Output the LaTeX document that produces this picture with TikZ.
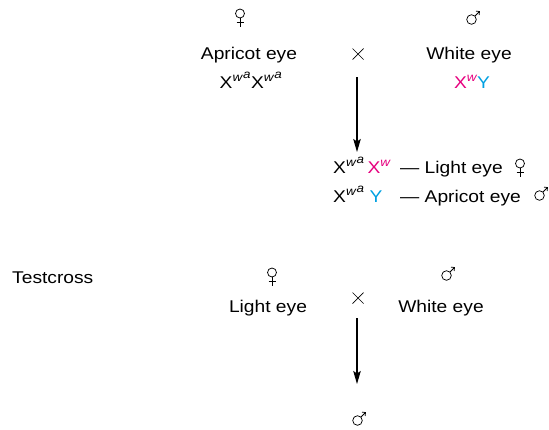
\documentclass[tikz,border=0pt]{standalone}
\usepackage{fontspec}
\setmainfont[FakeStretch=1.13]{Liberation Sans}
\usetikzlibrary{arrows.meta}
\definecolor{allele}{RGB}{230,0,126}
\definecolor{ychrom}{RGB}{0,160,225}
\newcommand{\supwa}{\textsuperscript{\itshape w\kern0.8pt\raisebox{0.5ex}{a}}}
\newcommand{\supw}{\textsuperscript{\itshape w}}
\tikzset{
  sexline/.style={line width=0.75pt},
  female/.pic={
    \draw[sexline] (0,-3.5) circle[radius=4.5];
    \draw[sexline] (0,1) -- (0,9.5) (-3.5,5.5) -- (3.5,5.5);},
  male/.pic={
    \draw[sexline] (-1.5,2.5) circle[radius=4.8];
    \draw[sexline] (1.9,-0.9) -- (6.5,-5.5);
    \draw[sexline] (3.0,-5.9) -- (6.5,-5.5) -- (6.1,-2.0);},
  crosssign/.pic={
    \draw[line width=0.7pt] (-5.5,-5.5) -- (5.5,5.5) (-5.5,5.5) -- (5.5,-5.5);}
}
\begin{document}
\begin{tikzpicture}[x=1pt,y=-1pt,
  lbl/.style={inner sep=0pt,anchor=base,font=\fontsize{17}{20}\selectfont},
  lblw/.style={lbl,anchor=base west},
  arr/.style={line width=1.2pt,-{Stealth[length=13pt,width=7.5pt,inset=2.5pt]}}]
\useasboundingbox (0,0) rectangle (549,429);
% parental cross
\pic (pf) at (240,17) {female};
\pic (pm) at (473,17) {male};
\node[lbl] (papr) at (249,59) {Apricot eye};
\node[lbl] (pgf) at (251,88) {X\supwa X\supwa};
\pic (px) at (358,54) {crosssign};
\node[lbl] (pwh) at (469,59) {White eye};
\node[lbl] (pgm) at (472,88) {\color{allele}X\supw\color{ychrom}Y};
\coordinate (a1s) at (357,77);
\coordinate (a1e) at (357,152);
\draw[arr] (a1s) -- (a1e);
% F1 progeny
\node[lblw] (f1g) at (333,173) {X\supwa\kern3pt\color{allele}X\supw};
\node[lblw] (f1p) at (400,173) {— Light eye};
\pic (f1s) at (520,167) {female};
\node[lblw] (m1g) at (333,202) {X\supwa\kern5pt\color{ychrom}Y};
\node[lblw] (m1p) at (400,202) {— Apricot eye};
\pic (m1s) at (541,193) {male};
% testcross
\node[lblw] (tc) at (12,283) {Testcross};
\pic (tf) at (272,276) {female};
\pic (tm) at (448,273) {male};
\node[lbl] (tl) at (268,312) {Light eye};
\pic (tx) at (358,298) {crosssign};
\node[lbl] (tw) at (441,312) {White eye};
\coordinate (a2s) at (357,318);
\coordinate (a2e) at (357,384);
\draw[arr] (a2s) -- (a2e);
\pic (om) at (359,418) {male};
\end{tikzpicture}
\end{document}
